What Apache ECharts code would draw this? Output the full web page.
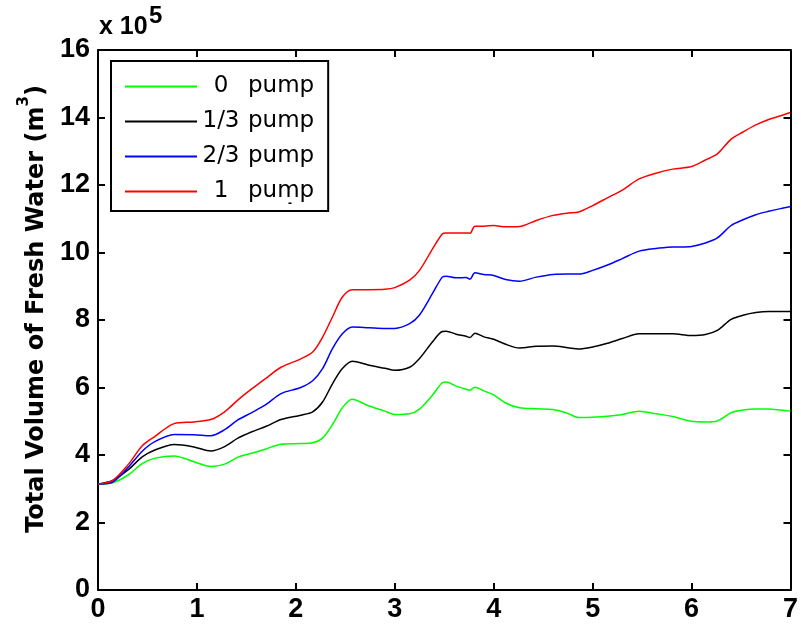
<!DOCTYPE html>
<html>
<head>
<meta charset="utf-8">
<script src="https://cdn.jsdelivr.net/npm/echarts@6/dist/echarts.min.js"></script>
<style>html,body{margin:0;padding:0;background:#fff;}#c{width:801px;height:632px;}</style>
</head>
<body>
<div id="c"></div>
<script>
// Time axis values (shared by all series)
const xs = [0, 0.15, 0.3, 0.45, 0.57, 0.77, 0.97, 1.14, 1.28, 1.41, 1.55, 1.7, 1.85, 2.05, 2.17, 2.27, 2.37, 2.47, 2.57, 2.74, 2.9, 3.0, 3.15, 3.25, 3.38, 3.48, 3.52, 3.62, 3.72, 3.76, 3.81, 3.9, 4.0, 4.12, 4.26, 4.43, 4.6, 4.75, 4.86, 5.0, 5.15, 5.3, 5.47, 5.64, 5.81, 6.0, 6.14, 6.26, 6.4, 6.52, 6.65, 6.78, 6.9, 7.0];
// Total volume of fresh water (x 10^5 m^3)
const pump0 = [3.14, 3.18, 3.4, 3.75, 3.9, 3.97, 3.8, 3.66, 3.73, 3.93, 4.05, 4.18, 4.32, 4.34, 4.36, 4.5, 4.9, 5.4, 5.65, 5.45, 5.3, 5.2, 5.22, 5.36, 5.77, 6.14, 6.16, 6.04, 5.95, 5.92, 6.01, 5.9, 5.78, 5.54, 5.4, 5.37, 5.35, 5.23, 5.11, 5.12, 5.15, 5.2, 5.3, 5.22, 5.14, 5.0, 4.98, 5.01, 5.25, 5.33, 5.36, 5.36, 5.33, 5.3];
const pump13 = [3.14, 3.25, 3.55, 3.95, 4.14, 4.31, 4.24, 4.12, 4.25, 4.49, 4.68, 4.85, 5.05, 5.18, 5.28, 5.57, 6.11, 6.56, 6.78, 6.66, 6.57, 6.51, 6.6, 6.86, 7.35, 7.66, 7.67, 7.58, 7.52, 7.48, 7.61, 7.5, 7.43, 7.28, 7.17, 7.22, 7.23, 7.18, 7.14, 7.2, 7.31, 7.45, 7.59, 7.59, 7.59, 7.54, 7.57, 7.69, 8.02, 8.14, 8.22, 8.25, 8.25, 8.25];
const pump23 = [3.14, 3.2, 3.62, 4.12, 4.39, 4.61, 4.6, 4.57, 4.75, 5.03, 5.25, 5.5, 5.82, 6.0, 6.2, 6.56, 7.15, 7.59, 7.79, 7.77, 7.75, 7.75, 7.89, 8.15, 8.78, 9.27, 9.3, 9.25, 9.26, 9.21, 9.4, 9.35, 9.32, 9.2, 9.15, 9.27, 9.35, 9.36, 9.36, 9.47, 9.63, 9.82, 10.04, 10.12, 10.16, 10.18, 10.28, 10.43, 10.8, 10.97, 11.12, 11.22, 11.3, 11.36];
const pump1 = [3.14, 3.25, 3.7, 4.28, 4.54, 4.93, 4.98, 5.05, 5.28, 5.62, 5.95, 6.28, 6.6, 6.85, 7.05, 7.49, 8.09, 8.68, 8.9, 8.9, 8.91, 8.96, 9.18, 9.47, 10.1, 10.55, 10.58, 10.58, 10.58, 10.57, 10.78, 10.78, 10.8, 10.76, 10.77, 10.95, 11.1, 11.17, 11.2, 11.39, 11.62, 11.85, 12.18, 12.35, 12.47, 12.55, 12.74, 12.92, 13.36, 13.57, 13.78, 13.94, 14.05, 14.15];
const seriesNames = ['0 pump', '1/3 pump', '2/3 pump', '1 pump'];
const legendFrac = ['0', '1/3', '2/3', '1'];
const colors = ['#00ff00', '#000000', '#0000ff', '#ff0000'];
const seriesData = [pump0, pump13, pump23, pump1];
const xTicks = [0, 1, 2, 3, 4, 5, 6, 7];
const yTicks = [0, 2, 4, 6, 8, 10, 12, 14, 16];

const chart = echarts.init(document.getElementById('c'), null, {renderer: 'canvas'});
const tickFont = {fontFamily: 'Liberation Sans', fontWeight: 'bold', fontSize: 27, color: '#000'};
const axLine = {show: true, onZero: false, lineStyle: {color: '#000', width: 2}};
const tick = {show: true, inside: true, length: 7, lineStyle: {color: '#000', width: 2}};

const option = {
  backgroundColor: '#fff',
  animation: false,
  grid: {left: 98, right: 10, top: 50, bottom: 42, containLabel: false},
  xAxis: [
    {type: 'value', min: xTicks[0], max: xTicks[xTicks.length - 1], interval: 1, position: 'bottom',
     axisLine: axLine, axisTick: tick, splitLine: {show: false},
     axisLabel: Object.assign({margin: 6}, tickFont)},
    {type: 'value', min: xTicks[0], max: xTicks[xTicks.length - 1], interval: 1, position: 'top',
     axisLine: axLine, axisTick: tick, splitLine: {show: false}, axisLabel: {show: false}}
  ],
  yAxis: [
    {type: 'value', min: yTicks[0], max: yTicks[yTicks.length - 1], interval: 2, position: 'left',
     axisLine: axLine, axisTick: tick, splitLine: {show: false},
     axisLabel: Object.assign({margin: 8}, tickFont),
     name: '{t|Total Volume of Fresh Water (m}{s|3}{t|)}',
     nameLocation: 'middle', nameGap: 40,
     nameTextStyle: {
       padding: [0, 0, 0, 22],
       rich: {
         t: {fontFamily: 'DejaVu Sans', fontWeight: 'bold', fontSize: 24, color: '#000', lineHeight: 40},
         s: {fontFamily: 'DejaVu Sans', fontWeight: 'bold', fontSize: 15, color: '#000', lineHeight: 15, verticalAlign: 'top'}
       }
     }},
    {type: 'value', min: yTicks[0], max: yTicks[yTicks.length - 1], interval: 2, position: 'right',
     axisLine: axLine, axisTick: tick, splitLine: {show: false}, axisLabel: {show: false}}
  ],
  legend: {
    show: true, orient: 'vertical', left: 111, top: 61,
    data: seriesNames,
    icon: 'rect', itemWidth: 72, itemHeight: 2, itemGap: 12,
    padding: [14, 14, 8, 14],
    borderColor: '#000', borderWidth: 2, backgroundColor: '#fff',
    selectedMode: false,
    formatter: function (name) {
      const i = seriesNames.indexOf(name);
      return '{a|' + legendFrac[i] + '}{b|pump}';
    },
    textStyle: {
      rich: {
        a: {fontFamily: 'DejaVu Sans', fontSize: 23, color: '#000', width: 38, align: 'center', lineHeight: 22},
        b: {fontFamily: 'DejaVu Sans', fontSize: 23, color: '#000', padding: [0, 0, 0, 8], lineHeight: 22}
      }
    }
  },
  graphic: [
    {type: 'text', left: 99, top: 15, style: {text: 'x 10', font: 'bold 25px "Liberation Sans"', fill: '#000'}},
    {type: 'text', left: 149, top: 4, style: {text: '5', font: 'bold 24px "Liberation Sans"', fill: '#000'}},
    {type: 'text', left: 288, top: 198, z: 100, zlevel: 1, style: {text: '-', font: 'bold 12px "Liberation Sans"', fill: '#000'}}
  ],
  series: seriesNames.map((n, i) => ({
    name: n, type: 'line', xAxisIndex: 0, yAxisIndex: 0,
    data: xs.map((x, k) => [x, seriesData[i][k]]),
    showSymbol: false, symbol: 'none', smooth: 0.3,
    lineStyle: {color: colors[i], width: 1.5},
    itemStyle: {color: colors[i]},
    z: 2 + i
  }))
};
chart.setOption(option);
</script>
</body>
</html>
